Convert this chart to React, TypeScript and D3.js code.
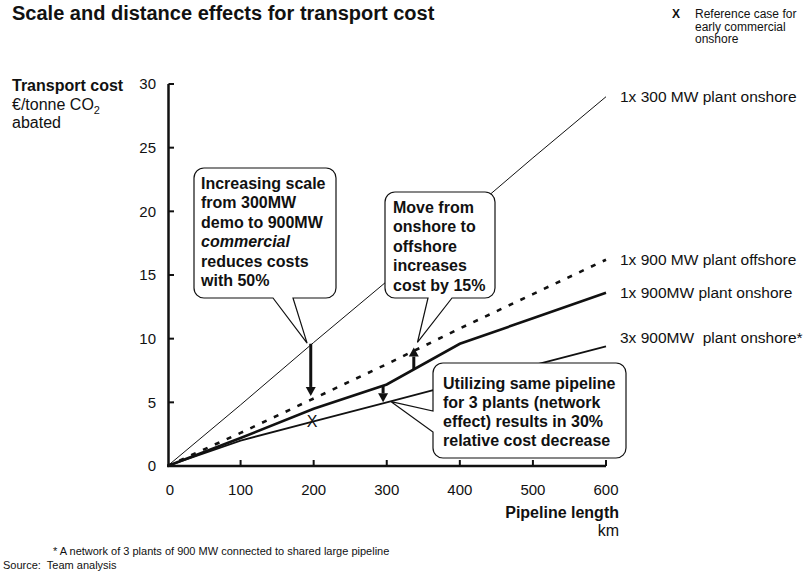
import React from 'react'
import * as d3 from 'd3'

// pipeline length (km) and transport cost (€/tonne CO2) per case
const distanceKm = [0, 100, 200, 300, 400, 500, 600]
const cost300Onshore = [0, 4.8, 9.7, 14.5, 19.3, 24.2, 29.0]
const cost900Offshore = [0, 2.6, 5.3, 8.0, 10.8, 13.5, 16.2]
const cost900Onshore = [0, 2.2, 4.5, 6.4, 9.6, 11.6, 13.6]
const cost3x900Onshore = [0, 2.0, 3.5, 5.0, 6.5, 7.9, 9.4]
const seriesLabels = [
    '1x 300 MW plant onshore',
    '1x 900 MW plant offshore',
    '1x 900MW plant onshore',
    '3x 900MW  plant onshore*',
]
const xTicks = [0, 100, 200, 300, 400, 500, 600]
const yTicks = [0, 5, 10, 15, 20, 25, 30]
const referenceCase = { km: 198, cost: 3.5 }
const effectArrows = [
    { km: 196, from: 9.6, to: 5.5 },
    { km: 337, from: 7.6, to: 9.3 },
    { km: 295, from: 6.3, to: 5.0 },
]

const font = 'Liberation Sans, Arial, Helvetica, sans-serif'
const W = 810
const H = 578

const x = d3.scaleLinear().domain([0, 600]).range([167.5, 606])
const y = d3.scaleLinear().domain([0, 30]).range([466, 84])

const series = [
    { values: cost300Onshore, width: 1, dash: null, labelDy: 0 },
    { values: cost900Offshore, width: 2.6, dash: '5 8', labelDy: 0 },
    { values: cost900Onshore, width: 2.6, dash: null, labelDy: 0 },
    { values: cost3x900Onshore, width: 1.8, dash: null, labelDy: -8 },
]

const line = d3.line<number>()
    .x((d, i) => x(distanceKm[i]))
    .y(d => y(d))

// rounded box with a pointer tail on the bottom or left side
const calloutPath = (bx, by, bw, bh, r, side, t1, t2, ax, ay) => {
    const p = d3.path()
    p.moveTo(bx + r, by)
    p.lineTo(bx + bw - r, by)
    p.arcTo(bx + bw, by, bx + bw, by + r, r)
    p.lineTo(bx + bw, by + bh - r)
    p.arcTo(bx + bw, by + bh, bx + bw - r, by + bh, r)
    if (side === 'bottom') {
        p.lineTo(t2, by + bh)
        p.lineTo(ax, ay)
        p.lineTo(t1, by + bh)
    }
    p.lineTo(bx + r, by + bh)
    p.arcTo(bx, by + bh, bx, by + bh - r, r)
    if (side === 'left') {
        p.lineTo(bx, t2)
        p.lineTo(ax, ay)
        p.lineTo(bx, t1)
    }
    p.lineTo(bx, by + r)
    p.arcTo(bx, by, bx + r, by, r)
    p.closePath()
    return p.toString()
}

const callouts = [
    {
        box: [194, 168, 142, 130], side: 'bottom', tail: [273, 293], apex: { km: 191, cost: 9.65 },
        textX: 201, textY: 188.5, step: 19.5,
        lines: ['Increasing scale', 'from 300MW', 'demo to 900MW', 'commercial', 'reduces costs', 'with 50%'],
        italic: 3,
    },
    {
        box: [385, 192, 110, 106], side: 'bottom', tail: [428, 452], apex: { km: 342, cost: 9.7 },
        textX: 393, textY: 212.5, step: 19.5,
        lines: ['Move from', 'onshore to', 'offshore', 'increases', 'cost by 15%'],
        italic: -1,
    },
    {
        box: [433, 363, 193, 95], side: 'left', tail: [411, 432], apex: { km: 306, cost: 5.05 },
        textX: 443, textY: 388.5, step: 19,
        lines: ['Utilizing same pipeline', 'for 3 plants (network', 'effect) results in 30%', 'relative cost decrease'],
        italic: -1,
    },
]

const Arrow = ({ km, from, to }) => {
    const ax = x(km)
    const y1 = y(from)
    const y2 = y(to)
    const dir = y2 > y1 ? 1 : -1
    const base = y2 - dir * 9
    return (
        <g>
            <line x1={ax} x2={ax} y1={y1} y2={base} stroke="#111" strokeWidth={3} />
            <polygon points={`${ax - 5},${base} ${ax + 5},${base} ${ax},${y2}`} fill="#111" />
        </g>
    )
}

const App = () => {
    return (
        <svg width={W} height={H} style={{ position: 'absolute', left: 0, top: 0, background: '#fff' }} fontFamily={font}>
            <rect width={W} height={H} fill="#fff" />

            <text x={12} y={20} fontSize={20} fontWeight="bold" fill="#111">Scale and distance effects for transport cost</text>

            <g fill="#111" fontSize={12}>
                <text x={672} y={18} fontWeight="bold">X</text>
                <text x={695} y={18}>Reference case for</text>
                <text x={695} y={30.5}>early commercial</text>
                <text x={695} y={43}>onshore</text>
            </g>

            <g fill="#111" fontSize={16}>
                <text x={12} y={91} fontWeight="bold">Transport cost</text>
                <text x={12} y={109.5}>€/tonne CO<tspan fontSize={11} dy={4}>2</tspan></text>
                <text x={12} y={128}>abated</text>
            </g>

            {/* series */}
            {series.map((s, i) => (
                <path key={i} d={line(s.values)} fill="none" stroke="#111"
                    strokeWidth={s.width} strokeDasharray={s.dash || undefined} />
            ))}
            {series.map((s, i) => (
                <text key={i} x={620} y={y(s.values[s.values.length - 1]) + 5 + s.labelDy}
                    fontSize={15.5} fill="#111" style={{ whiteSpace: 'pre' }}>{seriesLabels[i]}</text>
            ))}

            {/* axes */}
            <line x1={168.5} x2={168.5} y1={y(30)} y2={y(0)} stroke="#111" strokeWidth={2.5} />
            <line x1={167} x2={x(600)} y1={y(0)} y2={y(0)} stroke="#111" strokeWidth={2.5} />
            {yTicks.map(t => (
                <g key={t}>
                    <line x1={168.5} x2={174} y1={y(t)} y2={y(t)} stroke="#111" strokeWidth={2} />
                    <text x={156} y={y(t)} dy="0.35em" textAnchor="end" fontSize={15} fill="#111">{t}</text>
                </g>
            ))}
            {xTicks.map(t => (
                <g key={t}>
                    {t > 0 && <line x1={x(t)} x2={x(t)} y1={y(0)} y2={y(0) - 6} stroke="#111" strokeWidth={2} />}
                    <text x={t === 0 ? 170 : x(t)} y={495} textAnchor="middle" fontSize={15} fill="#111">{t}</text>
                </g>
            ))}
            <text x={619} y={518} textAnchor="end" fontSize={16} fontWeight="bold" fill="#111">Pipeline length</text>
            <text x={619} y={536} textAnchor="end" fontSize={16} fill="#111">km</text>

            {/* reference case marker */}
            <text x={x(referenceCase.km)} y={y(referenceCase.cost)} dy="0.36em" textAnchor="middle"
                fontSize={16} fill="#111">X</text>

            {/* callouts */}
            {callouts.map((c, i) => {
                const [bx, by, bw, bh] = c.box
                return (
                    <g key={i}>
                        <path d={calloutPath(bx, by, bw, bh, 10, c.side, c.tail[0], c.tail[1], x(c.apex.km), y(c.apex.cost))}
                            fill="#fff" stroke="#111" strokeWidth={1.2} />
                        {c.lines.map((l, j) => (
                            <text key={j} x={c.textX} y={c.textY + j * c.step} fontSize={16} fontWeight="bold"
                                fontStyle={j === c.italic ? 'italic' : 'normal'} fill="#111">{l}</text>
                        ))}
                    </g>
                )
            })}

            {effectArrows.map((a, i) => <Arrow key={i} {...a} />)}

            <g fill="#111" fontSize={11}>
                <text x={53} y={555}>*  A network of 3 plants of 900 MW connected to shared large pipeline</text>
                <text x={3} y={569} style={{ whiteSpace: 'pre' }}>Source:  Team analysis</text>
            </g>
        </svg>
    )
}

export default App
